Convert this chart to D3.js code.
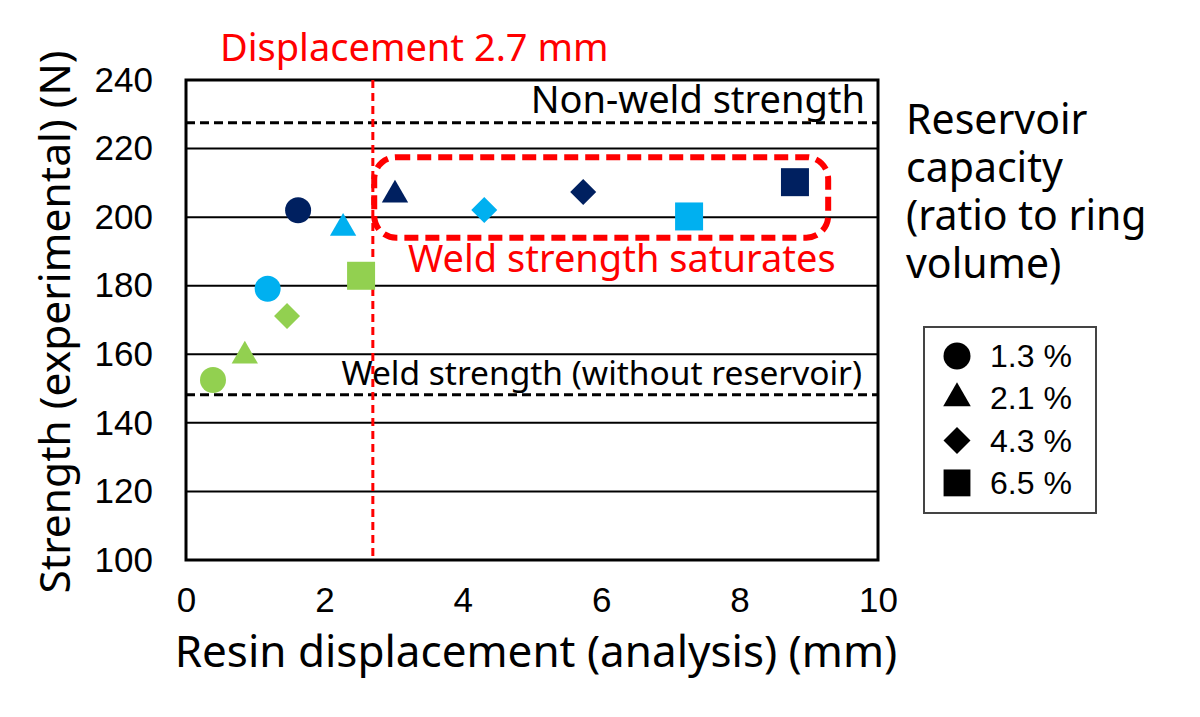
<!DOCTYPE html>
<html>
<head>
<meta charset="utf-8">
<script src="https://cdn.jsdelivr.net/npm/d3@7"></script>
<style>
body{margin:0;background:#fff;}
svg text{font-family:"Noto Sans","DejaVu Sans",sans-serif;}
</style>
</head>
<body>
<div id="canvas"></div>
<script>
// data
var capacities = ["1.3 %","2.1 %","4.3 %","6.5 %"];
var shapes = ["circle","triangle","diamond","square"];
var groupColors = {green:"#92D050", blue:"#00B0F0", navy:"#002060"};

var greenPts = [
    {cap:"1.3 %", x:0.39, y:152.5},
    {cap:"2.1 %", x:0.85, y:159.5},
    {cap:"4.3 %", x:1.46, y:171.2},
    {cap:"6.5 %", x:2.53, y:182.9}
];
var bluePts = [
    {cap:"1.3 %", x:1.18, y:179.1},
    {cap:"2.1 %", x:2.27, y:196.8},
    {cap:"4.3 %", x:4.31, y:202.1},
    {cap:"6.5 %", x:7.27, y:200.2}
];
var navyPts = [
    {cap:"1.3 %", x:1.62, y:202.0},
    {cap:"2.1 %", x:3.02, y:206.5},
    {cap:"4.3 %", x:5.74, y:207.3},
    {cap:"6.5 %", x:8.80, y:210.2}
];

var xTicks = [0,2,4,6,8,10];
var yTicks = [100,120,140,160,180,200,220,240];
var nonWeld = 227.5, weldNoRes = 148.2, dispLine = 2.7;
var resLines = ['Reservoir','capacity','(ratio to ring','volume)'];

var W = 1200, H = 717;
var m = {t:80,r:322,b:157,l:186};
var w = W - m.l - m.r, h = H - m.t - m.b;

var svg = d3.select('#canvas').append('svg')
    .attr('width',W).attr('height',H);
var plot = svg.append('g')
    .attr('transform','translate(' + m.l + ',' + m.t + ')');

var x = d3.scaleLinear().domain([0,10]).range([0,w]);
var y = d3.scaleLinear().domain([100,240]).range([h,0]);

// grid
plot.selectAll('.grid').data(yTicks.slice(1,-1)).enter().append('line')
    .attr('x1',0).attr('x2',w)
    .attr('y1',function(d){return y(d)}).attr('y2',function(d){return y(d)})
    .style('stroke','#000').style('stroke-width',2);

// reference dashed lines
plot.selectAll('.ref').data([nonWeld,weldNoRes]).enter().append('line')
    .attr('x1',0).attr('x2',w)
    .attr('y1',function(d){return y(d)}).attr('y2',function(d){return y(d)})
    .style('stroke','#000').style('stroke-width',3)
    .style('stroke-dasharray','9,5');

// axes
var xAxis = plot.append('g').attr('transform','translate(0,' + h + ')')
    .call(d3.axisBottom(x).tickValues(xTicks).tickSize(0).tickPadding(27));
var yAxis = plot.append('g')
    .call(d3.axisLeft(y).tickValues(yTicks).tickSize(0).tickPadding(33));
[xAxis,yAxis].forEach(function(a){
    a.select('.domain').remove();
    a.selectAll('text').style('font-family','"Liberation Sans",Arial,sans-serif')
        .style('font-size','35px').style('fill','#000');
});

// frame
plot.append('rect').attr('x',0).attr('y',0).attr('width',w).attr('height',h)
    .style('fill','none').style('stroke','#000').style('stroke-width',3);

// vertical red line
plot.append('line')
    .attr('x1',x(dispLine)).attr('x2',x(dispLine))
    .attr('y1',0).attr('y2',h)
    .style('stroke','#FF0000').style('stroke-width',3)
    .style('stroke-dasharray','8,5');

// saturation box
plot.append('rect')
    .attr('x',x(2.72)).attr('y',y(217.5))
    .attr('width',x(9.28)-x(2.72)).attr('height',y(194.0)-y(217.5))
    .attr('rx',22).attr('ry',22)
    .style('fill','none').style('stroke','#FF0000').style('stroke-width',6)
    .style('stroke-dasharray','14,7');

// points
var symMap = {circle:d3.symbolCircle, triangle:d3.symbolTriangle, diamond:d3.symbolSquare, square:d3.symbolSquare};
var sizeMap = {circle:531, triangle:300, diamond:338, square:784};
function shapeOf(cap){ return shapes[capacities.indexOf(cap)]; }
function sym(s, k){ return d3.symbol().type(symMap[s]).size(sizeMap[s]*(k||1))(); }

[[greenPts,groupColors.green],[bluePts,groupColors.blue],[navyPts,groupColors.navy]].forEach(function(g){
    plot.selectAll(null).data(g[0]).enter().append('path')
        .attr('d',function(d){ return sym(shapeOf(d.cap)); })
        .attr('transform',function(d){
            var s = shapeOf(d.cap);
            return 'translate(' + x(d.x) + ',' + y(d.y) + ')' + (s==='diamond' ? ' rotate(45)' : '');
        })
        .style('fill',g[1]);
});

// annotations
svg.append('text').attr('x',220).attr('y',61).text('Displacement 2.7 mm')
    .style('fill','#FF0000').style('font-size','38px');
svg.append('text').attr('x',865).attr('y',113).attr('text-anchor','end').text('Non-weld strength')
    .style('fill','#000').style('font-size','38px');
svg.append('text').attr('x',862).attr('y',385).attr('text-anchor','end').text('Weld strength (without reservoir)')
    .style('fill','#000').style('font-size','33.5px');
svg.append('text').attr('x',408).attr('y',272).text('Weld strength saturates')
    .style('fill','#FF0000').style('font-size','38px');

// multi-line legend title as one text block
var resText = svg.append('text').attr('x',906).attr('y',134)
    .style('fill','#000').style('font-size','41px');
resText.selectAll('tspan').data(resLines).enter().append('tspan')
    .attr('x',906).attr('dy',function(d,i){return i ? 48 : 0})
    .text(function(d){return d});

// axis titles
svg.append('text').attr('x',536).attr('y',667).attr('text-anchor','middle')
    .text('Resin displacement (analysis) (mm)').style('font-size','44px');
svg.append('text').attr('transform','translate(70,322) rotate(-90)').attr('text-anchor','middle')
    .text('Strength (experimental) (N)').style('font-size','42.5px');

// legend
var leg = svg.append('g').attr('transform','translate(924,327)');
leg.append('rect').attr('width',172).attr('height',186)
    .style('fill','#fff').style('stroke','#444').style('stroke-width',2);
var items = leg.selectAll('.item').data(capacities).enter().append('g')
    .attr('transform',function(d,i){return 'translate(33,' + (29 + i*42.3) + ')'});
items.append('path')
    .attr('d',function(d){
        var s = shapeOf(d);
        return sym(s, s==='square' ? 0.92 : (s==='triangle' ? 1.1 : 1.08));
    })
    .attr('transform',function(d){ return shapeOf(d)==='diamond' ? 'rotate(45)' : ''; })
    .style('fill','#000');
items.append('text').attr('x',33).attr('y',11).text(function(d){return d})
    .style('font-family','"Liberation Sans",Arial,sans-serif').style('font-size','32px');
</script>
</body>
</html>
